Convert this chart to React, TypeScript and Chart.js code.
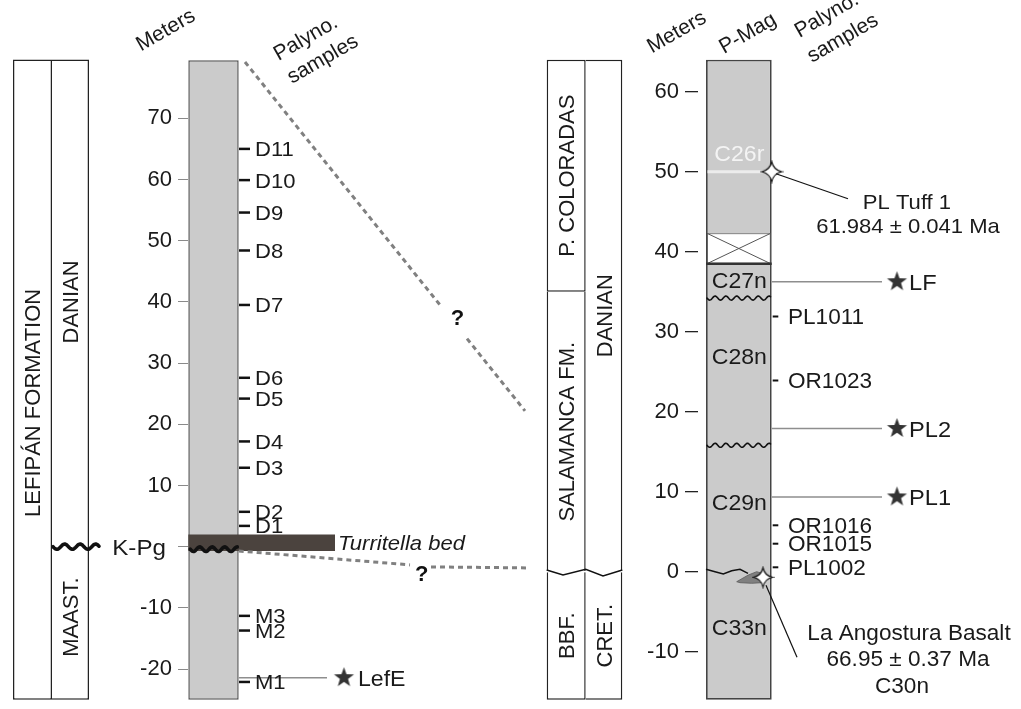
import React, { useEffect, useRef } from 'react';
import { Chart, registerables } from 'chart.js';

Chart.register(...registerables);

// ---------------- DATA (meters) ----------------
const leftAxisTicks = [-20, -10, 0, 10, 20, 30, 40, 50, 60, 70];
const rightAxisTicks = [-10, 0, 10, 20, 30, 40, 50, 60];

const leftSectionBase = -25;
const leftSectionTop = 79.6;
const rightSectionBase = -16;
const rightSectionTop = 64;

const leftFormationNames = ['LEFIPÁN FORMATION'];
const leftFormationLabelAt = [23.5];
const leftStageNames = ['DANIAN', 'MAAST.'];
const leftStageLabelAt = [40, -11.5];

const rightFormationNames = ['P. COLORADAS', 'SALAMANCA FM.', 'BBF.'];
const rightFormationFrom = [35, 0, -16];
const rightFormationTo = [64, 35, 0];
const rightStageNames = ['DANIAN', 'CRET.'];
const rightStageFrom = [0, -16];
const rightStageTo = [64, 0];

const leftSampleNames = ['D11', 'D10', 'D9', 'D8', 'D7', 'D6', 'D5', 'D4', 'D3', 'D2', 'D1', 'M3', 'M2', 'M1'];
const leftSampleDepths = [65.0, 59.9, 54.6, 48.4, 39.5, 27.6, 24.2, 17.2, 12.9, 5.7, 3.4, -11.3, -13.7, -22.1];

const rightSampleNames = ['PL1011', 'OR1023', 'OR1016', 'OR1015', 'PL1002'];
const rightSampleDepths = [31.9, 23.9, 5.8, 3.5, 0.55];

const kpgDepth = 0;
const turritellaBed = [-0.7, 2.0];
const lefESiteName = 'LefE';
const lefESiteDepth = -21.4;
const siteNames = ['LF', 'PL2', 'PL1'];
const siteDepths = [36.25, 17.9, 9.35];

const magnetozoneNames = ['C26r', 'C27n', 'C28n', 'C29n', 'C33n'];
const magnetozoneLabelDepths = [52.3, 36.5, 26.9, 8.75, -6.9];

const hiatusRange = [38.5, 42.3];
const unconformityDepths = [34.2, 15.8];
const tuffDepth = 50;
const basaltDepth = -0.7;
const topCorrelation = [79.2, 20.1];
const baseCorrelation = [-0.7, 0.6];

// ---------------- LAYOUT ----------------
const W = 1021;
const H = 709;
const FONT = '"Liberation Sans", Arial, Helvetica, sans-serif';
const LY = {
  lForm: [13, 52], lStage: [52, 89], lCol: [188.3, 238.7], lTickStart: 178, turrRight: 335,
  rForm: [546.7, 585.7], rStage: [585.7, 622.3], rCol: [706, 771.7], rTickStart: 685,
};
const leftPxPerM = 6.12, leftZeroPx = 546.7, rightPxPerM = 8, rightZeroPx = 571.7;

function starImage(points: number, rOut: number, rIn: number, fill: string) {
  const size = Math.ceil(rOut * 2 + 2);
  const c = document.createElement('canvas');
  c.width = size; c.height = size;
  const g = c.getContext('2d')!;
  g.translate(size / 2, size / 2);
  g.beginPath();
  for (let i = 0; i < points * 2; i++) {
    const r = i % 2 === 0 ? rOut : rIn;
    const a = -Math.PI / 2 + (i * Math.PI) / points;
    g.lineTo(r * Math.cos(a), r * Math.sin(a));
  }
  g.closePath();
  g.fillStyle = fill; g.fill();
  return c;
}
function sparkleImage(R: number) {
  const size = Math.ceil(R * 2 + 4);
  const c = document.createElement('canvas');
  c.width = size; c.height = size;
  const g = c.getContext('2d')!;
  g.translate(size / 2, size / 2);
  const k = R * 0.18;
  g.beginPath();
  g.moveTo(0, -R);
  g.quadraticCurveTo(k, -k, R, 0);
  g.quadraticCurveTo(k, k, 0, R);
  g.quadraticCurveTo(-k, k, -R, 0);
  g.quadraticCurveTo(-k, -k, 0, -R);
  g.closePath();
  g.fillStyle = '#ffffff'; g.fill();
  g.lineWidth = 1.2; g.strokeStyle = '#111'; g.stroke();
  return c;
}

function txt(ctx: CanvasRenderingContext2D, s: string, x: number, y: number, o: any = {}) {
  const size = o.size || 21;
  ctx.save();
  ctx.translate(x, y);
  if (o.rot) ctx.rotate((o.rot * Math.PI) / 180);
  if (o.sx) ctx.scale(o.sx, 1);
  ctx.font = `${o.italic ? 'italic ' : ''}${o.weight || 'normal'} ${size}px ${FONT}`;
  ctx.fillStyle = o.color || '#1a1a1a';
  ctx.textAlign = o.align || 'left';
  ctx.textBaseline = 'alphabetic';
  ctx.fillText(s, 0, size * 0.358);
  ctx.restore();
}

function wave(ctx: CanvasRenderingContext2D, x0: number, x1: number, y: number, period: number, amp: number, lw: number, color: string) {
  ctx.save();
  ctx.beginPath();
  for (let x = x0; x <= x1; x += 0.5) {
    const yy = y + amp * Math.sin(((x - x0) / period) * Math.PI * 2);
    if (x === x0) ctx.moveTo(x, yy); else ctx.lineTo(x, yy);
  }
  ctx.lineWidth = lw; ctx.strokeStyle = color; ctx.lineCap = 'round';
  ctx.stroke();
  ctx.restore();
}

function line(ctx: CanvasRenderingContext2D, pts: number[][], lw: number, color: string, dash?: number[]) {
  ctx.save();
  ctx.beginPath();
  pts.forEach((p, i) => (i === 0 ? ctx.moveTo(p[0], p[1]) : ctx.lineTo(p[0], p[1])));
  ctx.lineWidth = lw; ctx.strokeStyle = color;
  if (dash) ctx.setLineDash(dash);
  ctx.stroke();
  ctx.restore();
}

export default function App() {
  const ref = useRef<HTMLCanvasElement>(null);

  useEffect(() => {
    document.body.style.margin = '0';
    const canvas = ref.current!;
    const mid = (a: number[]) => (a[0] + a[1]) / 2;
    const wid = (a: number[]) => a[1] - a[0];
    const B = 1.5;

    const datasets: any[] = [];
    const barDs = (yAxisID: string, xr: number[], ranges: number[][], bg: string, bc: string, bw: any) => ({
      type: 'bar', yAxisID, xAxisID: 'x', stack: 'strat',
      data: ranges.map((r) => ({ x: mid(xr), y: r })),
      barThickness: wid(xr), backgroundColor: bg, borderColor: bc, borderWidth: bw, borderSkipped: false,
      inflateAmount: 0,
    });
    // left boxes
    datasets.push(barDs('yL', LY.lForm, [[leftSectionBase, leftSectionTop]], '#ffffff', '#222', B));
    datasets.push(barDs('yL', LY.lStage, [[leftSectionBase, leftSectionTop]], '#ffffff', '#222', { top: B, right: B, bottom: B, left: 0 }));
    datasets.push(barDs('yL', LY.lCol, [[leftSectionBase, leftSectionTop - 0.1]], '#cbcbcb', '#555', B));
    datasets.push(barDs('yL', [LY.lCol[0], LY.turrRight], [turritellaBed], '#4b433e', '#4b433e', 0));
    // right boxes
    datasets.push(barDs('yR', LY.rForm, rightFormationFrom.map((f, i) => [f, rightFormationTo[i]]), '#ffffff', '#222',
      rightFormationFrom.map((f, i) => ({ top: rightFormationTo[i] === rightSectionTop ? B : 0, bottom: f === rightSectionBase ? B : (f > 0 ? B : 0), left: B, right: B }))));
    datasets.push(barDs('yR', LY.rStage, rightStageFrom.map((f, i) => [f, rightStageTo[i]]), '#ffffff', '#222',
      rightStageFrom.map((f, i) => ({ top: rightStageTo[i] === rightSectionTop ? B : 0, bottom: f === rightSectionBase ? B : 0, left: 0, right: B }))));
    datasets.push(barDs('yR', LY.rCol, [[rightSectionBase, rightSectionTop]], '#cbcbcb', '#444', 1.8));
    const hiatusIdx = datasets.length;
    datasets.push(barDs('yR', [LY.rCol[0] + 1, LY.rCol[1] - 1], [hiatusRange], '#ffffff', '#666', 1));

    // leader lines
    datasets.push({
      type: 'line', yAxisID: 'yL', data: [{ x: LY.lCol[1], y: lefESiteDepth }, { x: 327, y: lefESiteDepth }],
      borderColor: '#8e8e8e', borderWidth: 1.5, pointRadius: 0,
    });
    siteNames.forEach((n, i) => datasets.push({
      type: 'line', yAxisID: 'yR', data: [{ x: LY.rCol[1], y: siteDepths[i] }, { x: 882, y: siteDepths[i] }],
      borderColor: '#8e8e8e', borderWidth: 1.5, pointRadius: 0,
    }));
    // tuff light band
    datasets.push({
      type: 'line', yAxisID: 'yR', data: [{ x: LY.rCol[0] + 1.5, y: tuffDepth }, { x: LY.rCol[1] - 1.5, y: tuffDepth }],
      borderColor: '#ececec', borderWidth: 3, pointRadius: 0,
    });
    // sample ticks
    const leftTickIdx = datasets.length;
    datasets.push({
      type: 'scatter', yAxisID: 'yL', data: leftSampleDepths.map((d) => ({ x: 244.5, y: d })),
      pointStyle: 'line', pointRadius: 5.5, pointBorderWidth: 2.5, borderColor: '#111', backgroundColor: '#111',
    });
    const rightTickIdx = datasets.length;
    datasets.push({
      type: 'scatter', yAxisID: 'yR', data: rightSampleDepths.map((d) => ({ x: 775.5, y: d })),
      pointStyle: 'line', pointRadius: 2.8, pointBorderWidth: 2, borderColor: '#111', backgroundColor: '#111',
    });
    const blackStar = starImage(5, 10.5, 4.3, '#333333');
    const lefStarIdx = datasets.length;
    datasets.push({
      type: 'scatter', yAxisID: 'yL', data: [{ x: 344, y: lefESiteDepth }],
      pointStyle: blackStar, pointRadius: 10,
    });
    const siteStarIdx = datasets.length;
    datasets.push({
      type: 'scatter', yAxisID: 'yR', data: siteDepths.map((d) => ({ x: 897, y: d })),
      pointStyle: blackStar, pointRadius: 10,
    });
    datasets.push({
      type: 'scatter', yAxisID: 'yR', data: [{ x: LY.rCol[1], y: tuffDepth }],
      pointStyle: sparkleImage(10), pointRadius: 10,
    });
    datasets.push({
      type: 'scatter', yAxisID: 'yR', data: [{ x: 763, y: basaltDepth }],
      pointStyle: sparkleImage(9.5), pointRadius: 10,
    });
    datasets.forEach((d, i) => { d.order = 1000 - i; d.clip = false; });

    const deco = {
      id: 'deco',
      afterDatasetDraw(chart: any, args: any) {
        if (args.index !== hiatusIdx) return;
        const ctx = chart.ctx as CanvasRenderingContext2D;
        const yL = chart.scales.yL, yR = chart.scales.yR;
        // hiatus X
        const hT = yR.getPixelForValue(hiatusRange[1]), hB = yR.getPixelForValue(hiatusRange[0]);
        line(ctx, [[LY.rCol[0] + 1, hT], [LY.rCol[1] - 1, hB]], 1, '#555');
        line(ctx, [[LY.rCol[0] + 1, hB], [LY.rCol[1] - 1, hT]], 1, '#555');
        line(ctx, [[LY.rCol[0], hB], [LY.rCol[1], hB]], 2.5, '#333');
        // unconformities in magnetostratigraphic column
        unconformityDepths.forEach((d) => wave(ctx, LY.rCol[0] + 1, LY.rCol[1] - 1, yR.getPixelForValue(d), 10.8, 2, 1.6, '#111'));
        // K-Pg waves left
        const k0 = yL.getPixelForValue(kpgDepth);
        wave(ctx, LY.lStage[0] + 1, LY.lStage[1] + 10, k0, 15.5, 2.6, 3.6, '#111');
        wave(ctx, LY.lCol[0] + 2, LY.lCol[1] - 1, k0 + 2.5, 12.5, 2.3, 3.6, '#111');
        // zigzag boundary in right boxes
        const z = yR.getPixelForValue(0);
        line(ctx, [[LY.rForm[0], z - 1.7], [563, z + 3.3], [LY.rForm[1], z - 2.4], [603, z + 4.3], [LY.rStage[1], z - 1.7]], 1.5, '#111');
        // boundary in column + basalt lens
        line(ctx, [[LY.rCol[0], z - 2.4], [715, z], [723.3, z + 2.3], [731.7, z - 1], [740, z - 2.4], [748, z + 1.6]], 1.5, '#111');
        const b = yR.getPixelForValue(basaltDepth);
        ctx.save();
        ctx.beginPath();
        const poly = [[736.7, 4.4], [748.3, -2.3], [756.7, -5.6], [762, -4], [767, 1], [762, 5.4], [751.7, 6], [740, 5.4]];
        poly.forEach((p, i) => (i === 0 ? ctx.moveTo(p[0], b + p[1]) : ctx.lineTo(p[0], b + p[1])));
        ctx.closePath();
        ctx.fillStyle = '#808080'; ctx.fill();
        ctx.lineWidth = 0.8; ctx.strokeStyle = '#5a5a5a'; ctx.stroke();
        ctx.restore();
      },
      afterDatasetsDraw(chart: any) {
        const ctx = chart.ctx as CanvasRenderingContext2D;
        const yL = chart.scales.yL, yR = chart.scales.yR;
        const SX = 1.05;
        // correlation dashed lines
        const a = [245, yL.getPixelForValue(topCorrelation[0])];
        const e = [525, yR.getPixelForValue(topCorrelation[1])];
        const at = (x: number) => [x, a[1] + ((x - a[0]) / (e[0] - a[0])) * (e[1] - a[1])];
        line(ctx, [a, at(440)], 3, '#808080', [5, 4]);
        line(ctx, [at(467), e], 3, '#808080', [5, 4]);
        txt(ctx, '?', 457.5, 316.7, { size: 22, weight: 'bold', align: 'center', color: '#111' });
        const b0 = [LY.lCol[1], yL.getPixelForValue(baseCorrelation[0])];
        const bY = yR.getPixelForValue(baseCorrelation[1]);
        line(ctx, [b0, [410, bY - 2]], 3, '#808080', [5, 4]);
        line(ctx, [[431, bY], [527, bY + 1]], 3, '#808080', [5, 4]);
        txt(ctx, '?', 421.7, 573.3, { size: 22, weight: 'bold', align: 'center', color: '#111' });

        // tuff & basalt leaders
        const tY = yR.getPixelForValue(tuffDepth);
        line(ctx, [[776, tY + 2], [848, tY + 27]], 1.2, '#111');
        const bsY = yR.getPixelForValue(basaltDepth);
        line(ctx, [[766, bsY + 8], [797, bsY + 80]], 1.2, '#111');

        // rotated unit labels
        leftFormationNames.forEach((n, i) => txt(ctx, n, mid(LY.lForm), yL.getPixelForValue(leftFormationLabelAt[i]), { size: 22, rot: -90, align: 'center' }));
        leftStageNames.forEach((n, i) => txt(ctx, n, mid(LY.lStage), yL.getPixelForValue(leftStageLabelAt[i]), { size: 22, rot: -90, align: 'center' }));
        rightFormationNames.forEach((n, i) => txt(ctx, n, mid(LY.rForm), yR.getPixelForValue((rightFormationFrom[i] + rightFormationTo[i]) / 2), { size: 22, rot: -90, align: 'center' }));
        rightStageNames.forEach((n, i) => txt(ctx, n, mid(LY.rStage), yR.getPixelForValue((rightStageFrom[i] + rightStageTo[i]) / 2), { size: 22, rot: -90, align: 'center' }));

        // K-Pg & Turritella
        txt(ctx, 'K-Pg', 166, yL.getPixelForValue(kpgDepth), { size: 22, align: 'right', sx: 1.1 });
        txt(ctx, 'Turritella bed', 338, yL.getPixelForValue(mid(turritellaBed)), { size: 21, italic: true, sx: SX });

        // sample labels
        const lm = chart.getDatasetMeta(leftTickIdx).data;
        leftSampleNames.forEach((n, i) => txt(ctx, n, lm[i].x + 10.5, lm[i].y, { size: 21, sx: SX }));
        const rm = chart.getDatasetMeta(rightTickIdx).data;
        rightSampleNames.forEach((n, i) => txt(ctx, n, rm[i].x + 12.5, rm[i].y, { size: 21.5, sx: SX }));

        // site labels
        const ls = chart.getDatasetMeta(lefStarIdx).data[0];
        txt(ctx, lefESiteName, ls.x + 14, ls.y, { size: 22, sx: SX });
        const ss = chart.getDatasetMeta(siteStarIdx).data;
        siteNames.forEach((n, i) => txt(ctx, n, ss[i].x + 12, ss[i].y, { size: 22.5, sx: SX }));

        // magnetozones
        magnetozoneNames.forEach((n, i) => txt(ctx, n, mid(LY.rCol) + 0.5, yR.getPixelForValue(magnetozoneLabelDepths[i]), {
          size: 22, align: 'center', sx: SX, color: i === 0 ? '#f4f4f4' : '#1a1a1a',
        }));

        // annotations
        txt(ctx, 'PL Tuff 1', 907, tY + 29.5, { size: 21, align: 'center', sx: SX });
        txt(ctx, '61.984 ± 0.041 Ma', 908, tY + 53.8, { size: 21, align: 'center', sx: SX });
        txt(ctx, 'La Angostura Basalt', 909, bsY + 55, { size: 21.5, align: 'center', sx: SX });
        txt(ctx, '66.95 ± 0.37 Ma', 908, bsY + 81.5, { size: 21.5, align: 'center', sx: SX });
        txt(ctx, 'C30n', 902, bsY + 108.5, { size: 21.5, align: 'center', sx: SX });

        // headers
        txt(ctx, 'Meters', 165, 29, { size: 21, rot: -30, align: 'center' });
        txt(ctx, 'Palyno.', 305, 37, { size: 21, rot: -30, align: 'center' });
        txt(ctx, 'samples', 322, 58, { size: 21, rot: -30, align: 'center' });
        txt(ctx, 'Meters', 676, 31, { size: 21, rot: -30, align: 'center' });
        txt(ctx, 'P-Mag', 747, 32, { size: 21, rot: -30, align: 'center' });
        txt(ctx, 'Palyno.', 826, 14, { size: 21, rot: -30, align: 'center' });
        txt(ctx, 'samples', 842, 37, { size: 21, rot: -30, align: 'center' });
      },
    };

    const zeroPad = (s: any) => { s.paddingTop = 0; s.paddingBottom = 0; s.paddingLeft = 0; s.paddingRight = 0; };

    const options: any = {
      responsive: false,
      maintainAspectRatio: false,
      animation: false,
      events: [],
      layout: { padding: 0 },
      plugins: { legend: { display: false }, tooltip: { enabled: false } },
      scales: {
        x: { type: 'linear', min: 0, max: W, display: false, offset: false, grid: { offset: false } },
        yL: {
          type: 'linear', position: { x: LY.lTickStart }, stacked: false,
          min: (leftZeroPx - H) / leftPxPerM, max: leftZeroPx / leftPxPerM,
          afterBuildTicks: (s: any) => { s.ticks = leftAxisTicks.map((v) => ({ value: v })); },
          afterFit: zeroPad,
          grid: { drawOnChartArea: false, drawTicks: true, tickLength: -10, color: '#8a8a8a', lineWidth: 1 },
          border: { display: false },
          ticks: { autoSkip: false, padding: 0, color: '#1a1a1a', font: { size: 22, family: FONT },
            callback: (v: any) => (v === 0 ? '' : String(v) + ' ') },
        },
        yR: {
          type: 'linear', position: { x: LY.rTickStart }, stacked: false,
          min: (rightZeroPx - H) / rightPxPerM, max: rightZeroPx / rightPxPerM,
          afterBuildTicks: (s: any) => { s.ticks = rightAxisTicks.map((v) => ({ value: v })); },
          afterFit: zeroPad,
          grid: { drawOnChartArea: false, drawTicks: true, tickLength: -13, color: '#222', lineWidth: 1.3 },
          border: { display: false },
          ticks: { autoSkip: false, padding: 0, color: '#1a1a1a', font: { size: 22, family: FONT },
            callback: (v: any) => String(v) + ' ' },
        },
      },
    };

    const chart = new Chart(canvas, { type: 'bar', data: { datasets }, options, plugins: [deco] } as any);

    // calibrate scales so that data map to the figure's metre scales within the actual chart area
    for (let k = 0; k < 2; k++) {
      const ca = chart.chartArea;
      const sc: any = chart.options.scales;
      sc.x.min = ca.left; sc.x.max = ca.right;
      sc.yL.min = (leftZeroPx - ca.bottom) / leftPxPerM; sc.yL.max = (leftZeroPx - ca.top) / leftPxPerM;
      sc.yR.min = (rightZeroPx - ca.bottom) / rightPxPerM; sc.yR.max = (rightZeroPx - ca.top) / rightPxPerM;
      chart.update();
    }
    return () => chart.destroy();
  }, []);

  return (
    <div style={{ position: 'absolute', left: 0, top: 0, width: W, height: H, background: '#fff' }}>
      <canvas ref={ref} width={W} height={H} style={{ display: 'block', width: W, height: H }} />
    </div>
  );
}
